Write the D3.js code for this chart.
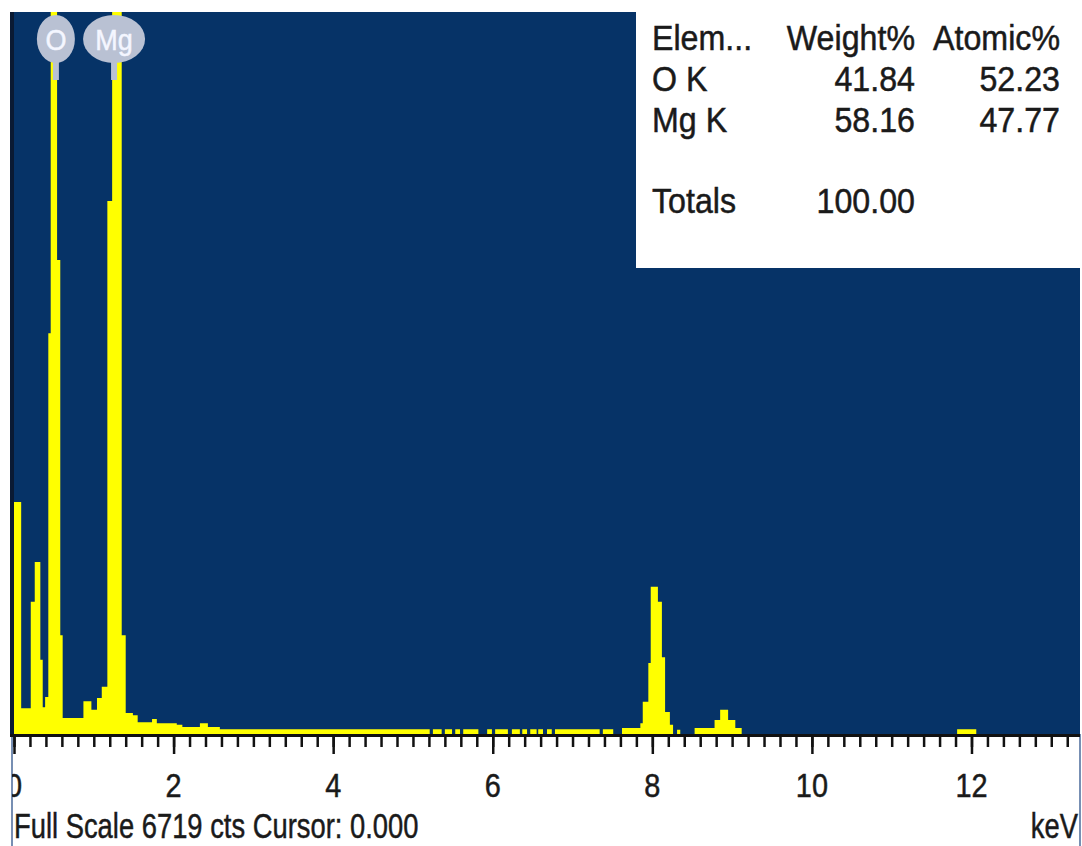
<!DOCTYPE html>
<html>
<head>
<meta charset="utf-8">
<script src="https://cdn.jsdelivr.net/npm/d3@7"></script>
<style>
  body { margin: 0; background: #fff; }
  svg { display: block; font-family: "Liberation Sans", Arial, sans-serif; }
</style>
</head>
<body>
<svg id="chart" width="1082" height="846"></svg>
<script>
// EDS spectrum: each step starts at energyKeV[i] and holds counts[i]
const energyKeV = [
  0.00, 0.09, 0.21, 0.26, 0.33, 0.36, 0.39, 0.43, 0.46, 0.54,
  0.58, 0.61, 0.87, 0.97, 1.04, 1.10, 1.17, 1.23, 1.35, 1.40,
  1.49, 1.55, 1.73, 1.79, 2.04, 2.11, 2.33, 2.43, 2.58, 5.21,
  5.25, 5.36, 5.40, 5.49, 5.53, 5.59, 5.63, 5.82, 5.93, 5.99,
  6.03, 6.19, 6.24, 6.34, 6.37, 6.43, 6.47, 6.55, 6.57, 6.63,
  6.68, 6.74, 6.78, 7.34, 7.38, 7.51, 7.62, 7.85, 7.88, 7.95,
  7.98, 8.07, 8.12, 8.16, 8.22, 8.26, 8.31, 8.35, 8.53, 8.78,
  8.85, 8.95, 9.04, 9.12, 11.82, 12.06
];
const counts = [
  2160, 240, 1230, 1600, 690, 250, 345, 3730, 9800, 4410,
  920, 150, 305, 225, 335, 440, 4960, 15000, 920, 195,
  175, 110, 140, 100, 85, 65, 100, 65, 45, 0,
  45, 0, 45, 0, 45, 0, 45, 0, 45, 0,
  45, 0, 45, 0, 45, 0, 45, 0, 45, 0,
  45, 0, 45, 0, 45, 0, 55, 100, 300, 660,
  1370, 1230, 715, 205, 85, 0, 40, 0, 55, 130,
  225, 130, 55, 0, 45, 0
];
const fullScale = 6719;
const xTickLabels = [0, 2, 4, 6, 8, 10, 12];

const peakElements = ["O", "Mg"];
const peakEnergies = [0.525, 1.254];

const tableHeader = ["Elem...", "Weight%", "Atomic%"];
const tableElements = ["O K", "Mg K"];
const weightPct = ["41.84", "58.16"];
const atomicPct = ["52.23", "47.77"];
const totalWeight = "100.00";

const footerText = "Full Scale 6719 cts Cursor: 0.000";
const unitText = "keV";

const svg = d3.select("#chart");
const plot = { left: 10, right: 1080, top: 12, bottom: 734 };

const x = d3.scaleLinear().domain([0, 13.36]).range([14, 1080]);
const y = d3.scaleLinear().domain([0, fullScale]).range([plot.bottom, plot.top]);

// plot background
svg.append("rect")
  .attr("x", plot.left).attr("y", plot.top)
  .attr("width", plot.right - plot.left).attr("height", plot.bottom - plot.top)
  .attr("fill", "#063367");

svg.append("clipPath").attr("id", "plotClip")
  .append("rect")
  .attr("x", plot.left).attr("y", plot.top)
  .attr("width", plot.right - plot.left).attr("height", plot.bottom - plot.top);

const spectrum = energyKeV.map((e, i) => ({ e: e, c: counts[i] }));
spectrum.push({ e: x.domain()[1], c: 0 });

const area = d3.area()
  .x(d => x(d.e))
  .y0(y(0))
  .y1(d => y(d.c))
  .curve(d3.curveStepAfter);

svg.append("path")
  .datum(spectrum)
  .attr("clip-path", "url(#plotClip)")
  .attr("d", area)
  .attr("fill", "#ffff00");

// frame lines
svg.append("line")
  .attr("x1", 12).attr("x2", 12).attr("y1", plot.top).attr("y2", plot.bottom)
  .attr("stroke", "#0a1a33").attr("stroke-width", 4);
svg.append("line")
  .attr("x1", 12).attr("x2", 12).attr("y1", plot.bottom).attr("y2", 846)
  .attr("stroke", "#4a6a9a").attr("stroke-width", 1.5);
svg.append("line")
  .attr("x1", 1080).attr("x2", 1080).attr("y1", plot.bottom).attr("y2", 846)
  .attr("stroke", "#4a6a9a").attr("stroke-width", 1.5);
svg.append("line")
  .attr("x1", plot.left).attr("x2", plot.right).attr("y1", 735.5).attr("y2", 735.5)
  .attr("stroke", "#111").attr("stroke-width", 3);

// ticks: minor every 0.2 keV, long ones at the labels
const minorAxis = svg.append("g")
  .attr("transform", "translate(0,737)")
  .call(d3.axisBottom(x).tickValues(d3.range(0, 13.3, 0.2)).tickSize(10).tickFormat(""));
const majorAxis = svg.append("g")
  .attr("transform", "translate(0,737)")
  .call(d3.axisBottom(x).tickValues(xTickLabels).tickSize(17).tickFormat(""));
[minorAxis, majorAxis].forEach(g => {
  g.select(".domain").remove();
  g.selectAll(".tick line").attr("stroke", "#111").attr("stroke-width", 2.5);
});

svg.append("clipPath").attr("id", "labelClip")
  .append("rect").attr("x", 12).attr("y", 737).attr("width", 1070).attr("height", 110);

svg.append("g")
  .attr("clip-path", "url(#labelClip)")
  .selectAll("text")
  .data(xTickLabels)
  .join("text")
  .attr("transform", d => `translate(${x(d)},797) scale(0.85,1)`)
  .attr("text-anchor", "middle")
  .attr("font-size", 34)
  .attr("fill", "#1a1a1a")
  .attr("stroke", "#1a1a1a").attr("stroke-width", 0.5)
  .text(d => d);

svg.append("text")
  .attr("transform", "translate(14,838) scale(0.76,1)")
  .attr("font-size", 36)
  .attr("fill", "#1a1a1a")
  .attr("stroke", "#1a1a1a").attr("stroke-width", 0.5)
  .text(footerText);

svg.append("text")
  .attr("transform", "translate(1078,838) scale(0.76,1)")
  .attr("text-anchor", "end")
  .attr("font-size", 36)
  .attr("fill", "#1a1a1a")
  .attr("stroke", "#1a1a1a").attr("stroke-width", 0.5)
  .text(unitText);

// element badges at the peaks
const badges = svg.append("g").selectAll("g")
  .data(peakElements)
  .join("g")
  .attr("transform", (d, i) => `translate(${x(peakEnergies[i])},39)`);

badges.append("rect")
  .attr("x", -3).attr("y", 18).attr("width", 6).attr("height", 23)
  .attr("fill", "#b9c1d3");
badges.append("ellipse")
  .attr("rx", d => 7 + 12 * d.length)
  .attr("ry", 24)
  .attr("fill", "#b9c1d3");
badges.append("text")
  .attr("transform", "translate(0,11) scale(0.9,1)")
  .attr("text-anchor", "middle")
  .attr("font-size", 30)
  .attr("fill", "#f4f6ff")
  .attr("stroke", "#f4f6ff").attr("stroke-width", 0.5)
  .text(d => d);

// quantification table
svg.append("rect")
  .attr("x", 636).attr("y", 0).attr("width", 446).attr("height", 268)
  .attr("fill", "#fff");

const colX = [652, 915, 1060];
const colAnchor = ["start", "end", "end"];
const rows = [tableHeader]
  .concat(tableElements.map((el, i) => [el, weightPct[i], atomicPct[i]]))
  .concat([["Totals", totalWeight, ""]]);
const rowY = [50, 91, 132, 213];

rows.forEach((row, r) => {
  row.forEach((cell, c) => {
    svg.append("text")
      .attr("transform", `translate(${colX[c]},${rowY[r]}) scale(0.92,1)`)
      .attr("text-anchor", colAnchor[c])
      .attr("font-size", 35)
      .attr("fill", "#1a1a1a")
      .attr("stroke", "#1a1a1a").attr("stroke-width", 0.5)
      .text(cell);
  });
});
</script>
</body>
</html>
